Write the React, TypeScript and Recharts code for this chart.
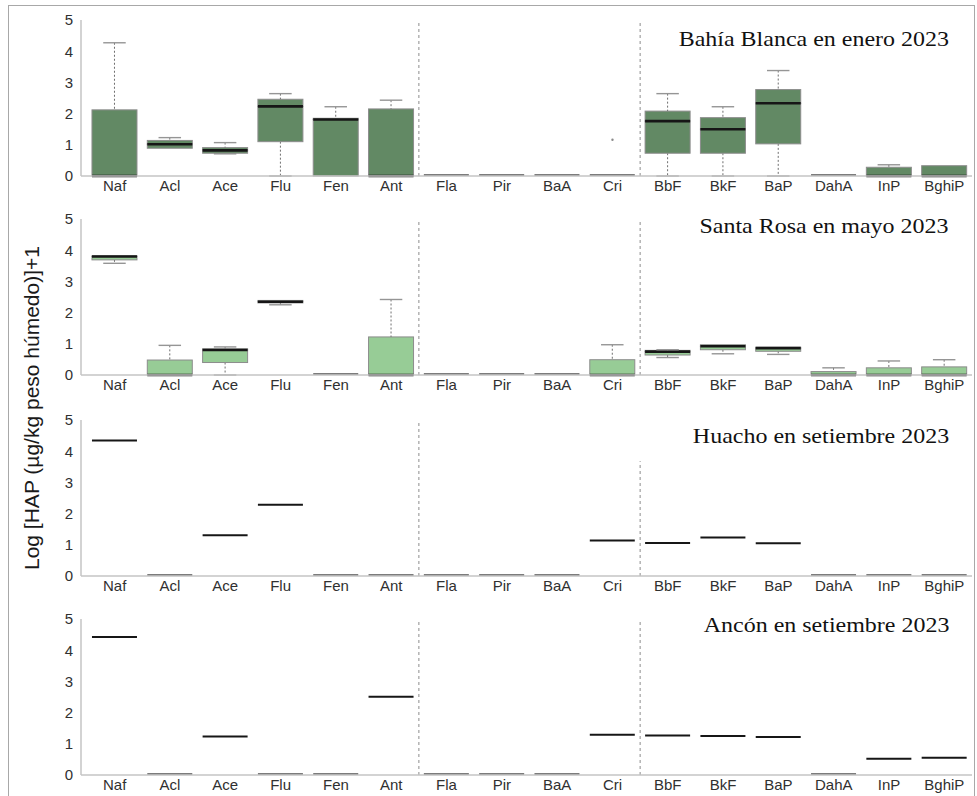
import React from "react";
import { ComposedChart, Bar, XAxis, YAxis, ReferenceLine, Scatter } from "recharts";

// PAH compounds on the x axis
const compounds = [
  "Naf", "Acl", "Ace", "Flu", "Fen", "Ant", "Fla", "Pir",
  "BaA", "Cri", "BbF", "BkF", "BaP", "DahA", "InP", "BghiP",
];
const yTicks = [0, 1, 2, 3, 4, 5];

// Bahía Blanca, enero 2023 (box statistics)
const bahiaMin = [0, 0.89, 0.71, 0, 0, 0, 0, 0, 0, 0, 0, 0, 0, 0, 0, 0];
const bahiaQ1 = [0, 0.89, 0.73, 1.1, 0, 0, 0, 0, 0, 0, 0.73, 0.73, 1.03, 0, 0, 0];
const bahiaMed = [0, 1.02, 0.82, 2.23, 1.81, 0, 0, 0, 0, 0, 1.76, 1.5, 2.33, 0, 0, 0];
const bahiaQ3 = [2.12, 1.14, 0.91, 2.46, 1.85, 2.15, 0, 0, 0, 0, 2.08, 1.87, 2.77, 0, 0.28, 0.33];
const bahiaMax = [4.27, 1.23, 1.07, 2.64, 2.22, 2.43, 0, 0, 0, 0, 2.64, 2.22, 3.38, 0, 0.36, 0.34];
const bahiaOutliers = [null, null, null, null, null, null, null, null, null, 1.16, null, null, null, null, null, null];

// Santa Rosa, mayo 2023 (box statistics)
const rosaMin = [3.58, 0, 0, 2.25, 0, 0, 0, 0, 0, 0, 0.56, 0.68, 0.66, 0, 0, 0];
const rosaQ1 = [3.69, 0, 0.4, 2.31, 0, 0, 0, 0, 0, 0, 0.64, 0.81, 0.76, 0, 0, 0];
const rosaMed = [3.8, 0, 0.8, 2.35, 0, 0, 0, 0, 0, 0, 0.75, 0.92, 0.86, 0, 0, 0];
const rosaQ3 = [3.82, 0.48, 0.84, 2.39, 0, 1.22, 0, 0, 0, 0.49, 0.79, 0.97, 0.89, 0.11, 0.23, 0.26];
const rosaMax = [3.82, 0.95, 0.9, 2.39, 0, 2.42, 0, 0, 0, 0.97, 0.81, 0.97, 0.89, 0.23, 0.45, 0.49];

// Huacho and Ancón, setiembre 2023 (single samples)
const huachoValues = [4.34, 0, 1.31, 2.28, 0, 0, 0, 0, 0, 1.14, 1.06, 1.23, 1.05, 0, 0, 0];
const anconValues = [4.42, 0, 1.23, 0, 0, 2.51, 0, 0, 0, 1.29, 1.27, 1.25, 1.22, 0, 0.52, 0.55];

type Row = {
  name: string;
  idx: number;
  base: number;
  lowW: number;
  boxLow: number;
  boxHigh: number;
  highW: number;
  q3: number;
  med: number;
  out: number | null;
};

function buildRows(
  min: number[],
  q1: number[],
  med: number[],
  q3: number[],
  max: number[],
  outliers?: (number | null)[]
): Row[] {
  return compounds.map((name, i) => ({
    name,
    idx: i,
    base: min[i],
    lowW: q1[i] - min[i],
    boxLow: med[i] - q1[i],
    boxHigh: q3[i] - med[i],
    highW: max[i] - q3[i],
    q3: q3[i],
    med: med[i],
    out: outliers ? outliers[i] : null,
  }));
}

const WHISKER = "#6f6f6f";
const CAP = "#959595";
const BOX_EDGE = "#8c8c8c";
const AXIS = "#c4c4c4";
const ZERO_LINE = "#7c7c7c";
const TICK_FONT = "'Liberation Sans', Arial, sans-serif";

const Empty = () => <g />;

const LowWhisker = (p: any) => {
  const { x, y, width, height } = p;
  if (!(height > 0.5)) return <g />;
  const cx = x + width / 2;
  return (
    <g>
      <line x1={cx} x2={cx} y1={y} y2={y + height} stroke={WHISKER} strokeDasharray="2 2" />
      <line x1={cx - width / 4} x2={cx + width / 4} y1={y + height} y2={y + height} stroke={CAP} strokeWidth={1.4} />
    </g>
  );
};

const HighWhisker = (p: any) => {
  const { x, y, width, height } = p;
  if (!(height > 0.5)) return <g />;
  const cx = x + width / 2;
  return (
    <g>
      <line x1={cx} x2={cx} y1={y} y2={y + height} stroke={WHISKER} strokeDasharray="2 2" />
      <line x1={cx - width / 4} x2={cx + width / 4} y1={y} y2={y} stroke={CAP} strokeWidth={1.4} />
    </g>
  );
};

const makeBoxLow = (fill: string) => (p: any) => {
  const { x, y, width, height } = p;
  if (!(height > 0)) return <g />;
  return <rect x={x} y={y} width={width} height={height} fill={fill} stroke={BOX_EDGE} strokeWidth={1} />;
};

// upper half of the box, with the median line drawn along its lower edge
const makeBoxHigh = (fill: string, medianWidth: number) => (p: any) => {
  const { x, y, width, height, payload } = p;
  const row = payload as Row;
  const hasValue = row && row.q3 > 0;
  const my = y + height;
  return (
    <g>
      {height > 0 && (
        <rect x={x} y={y} width={width} height={height} fill={fill} stroke={BOX_EDGE} strokeWidth={1} />
      )}
      {hasValue ? (
        <line x1={x} x2={x + width} y1={my} y2={my} stroke="#161616" strokeWidth={medianWidth} />
      ) : (
        <line x1={x} x2={x + width} y1={my - 1} y2={my - 1} stroke={ZERO_LINE} strokeWidth={2} />
      )}
    </g>
  );
};

const OutlierDot = (p: any) => {
  const { cx, cy } = p;
  if (cx == null || cy == null) return <g />;
  return <circle cx={cx} cy={cy} r={1.2} fill="#8a8a8a" />;
};

type PanelProps = {
  rows: Row[];
  fill: string;
  medianWidth: number;
  top: number;
  shortDivider?: number;
};

function Panel({ rows, fill, medianWidth, top, shortDivider }: PanelProps) {
  return (
    <div style={{ position: "absolute", left: 0, top }}>
      <ComposedChart
        width={975}
        height={200}
        data={rows}
        margin={{ top: 20, right: 3, bottom: 4, left: 41 }}
        barCategoryGap="9%"
      >
        <XAxis
          xAxisId="cat"
          dataKey="name"
          height={20}
          padding={{ left: 6, right: 0 }}
          axisLine={{ stroke: AXIS, strokeWidth: 1.5 }}
          tickLine={false}
          tickSize={2}
          tickMargin={2}
          interval={0}
          tick={{ fill: "#303030", fontSize: 15, fontFamily: TICK_FONT }}
        />
        <XAxis
          xAxisId="num"
          type="number"
          dataKey="idx"
          domain={[-0.5, 15.5]}
          allowDataOverflow
          hide
          padding={{ left: 6, right: 0 }}
        />
        <YAxis
          domain={[0, 5]}
          ticks={yTicks}
          width={40}
          interval={0}
          axisLine={{ stroke: AXIS, strokeWidth: 1.5 }}
          tickLine={false}
          tickSize={4}
          tickMargin={4}
          tick={{ fill: "#303030", fontSize: 15, fontFamily: TICK_FONT }}
        />
        <ReferenceLine xAxisId="num" x={5.5} stroke="#8c8c8c" strokeDasharray="3 3" />
        {shortDivider == null ? (
          <ReferenceLine xAxisId="num" x={9.5} stroke="#8c8c8c" strokeDasharray="3 3" />
        ) : (
          <ReferenceLine
            xAxisId="num"
            segment={[
              { x: 9.5, y: 0 },
              { x: 9.5, y: shortDivider },
            ]}
            stroke="#8c8c8c"
            strokeDasharray="3 3"
          />
        )}
        <Bar xAxisId="cat" dataKey="base" stackId="box" shape={Empty} isAnimationActive={false} />
        <Bar xAxisId="cat" dataKey="lowW" stackId="box" shape={LowWhisker} isAnimationActive={false} />
        <Bar xAxisId="cat" dataKey="boxLow" stackId="box" shape={makeBoxLow(fill)} isAnimationActive={false} />
        <Bar xAxisId="cat" dataKey="boxHigh" stackId="box" shape={makeBoxHigh(fill, medianWidth)} isAnimationActive={false} />
        <Bar xAxisId="cat" dataKey="highW" stackId="box" shape={HighWhisker} isAnimationActive={false} />
        <Scatter xAxisId="cat" dataKey="out" shape={OutlierDot} isAnimationActive={false} />
      </ComposedChart>
    </div>
  );
}

const titleStyle = (top: number): React.CSSProperties => ({
  position: "absolute",
  right: 28,
  top,
  fontFamily: "'Liberation Serif', 'Times New Roman', serif",
  fontSize: 22,
  lineHeight: "20px",
  color: "#111",
  whiteSpace: "nowrap",
  transform: "scaleX(1.09)",
  transformOrigin: "right center",
});

export default function App() {
  const bahiaRows = buildRows(bahiaMin, bahiaQ1, bahiaMed, bahiaQ3, bahiaMax, bahiaOutliers);
  const rosaRows = buildRows(rosaMin, rosaQ1, rosaMed, rosaQ3, rosaMax);
  const huachoRows = buildRows(huachoValues, huachoValues, huachoValues, huachoValues, huachoValues);
  const anconRows = buildRows(anconValues, anconValues, anconValues, anconValues, anconValues);

  return (
    <div style={{ position: "absolute", left: 0, top: 0, width: 977, height: 796, background: "#fff" }}>
      <div
        style={{
          position: "absolute",
          left: 8,
          top: 5,
          width: 967,
          height: 791,
          boxSizing: "border-box",
          border: "1px solid #a8a8a8",
          borderBottom: "none",
        }}
      />
      <Panel rows={bahiaRows} fill="#628964" medianWidth={2.6} top={0} />
      <Panel rows={rosaRows} fill="#97cc96" medianWidth={2.6} top={199} />
      <Panel rows={huachoRows} fill="#97cc96" medianWidth={2} top={400} shortDivider={3.68} />
      <Panel rows={anconRows} fill="#97cc96" medianWidth={2} top={599} />

      <div style={titleStyle(29)}>Bahía Blanca en enero 2023</div>
      <div style={titleStyle(216)}>Santa Rosa en mayo 2023</div>
      <div style={titleStyle(426)}>Huacho en setiembre 2023</div>
      <div style={titleStyle(615)}>Ancón en setiembre 2023</div>

      <div
        style={{
          position: "absolute",
          left: 31,
          top: 408,
          transform: "translate(-50%, -50%) rotate(-90deg)",
          fontFamily: TICK_FONT,
          fontSize: 21,
          lineHeight: 1,
          color: "#1a1a1a",
          whiteSpace: "nowrap",
        }}
      >
        Log [HAP (µg/kg peso húmedo)]+1
      </div>
    </div>
  );
}
